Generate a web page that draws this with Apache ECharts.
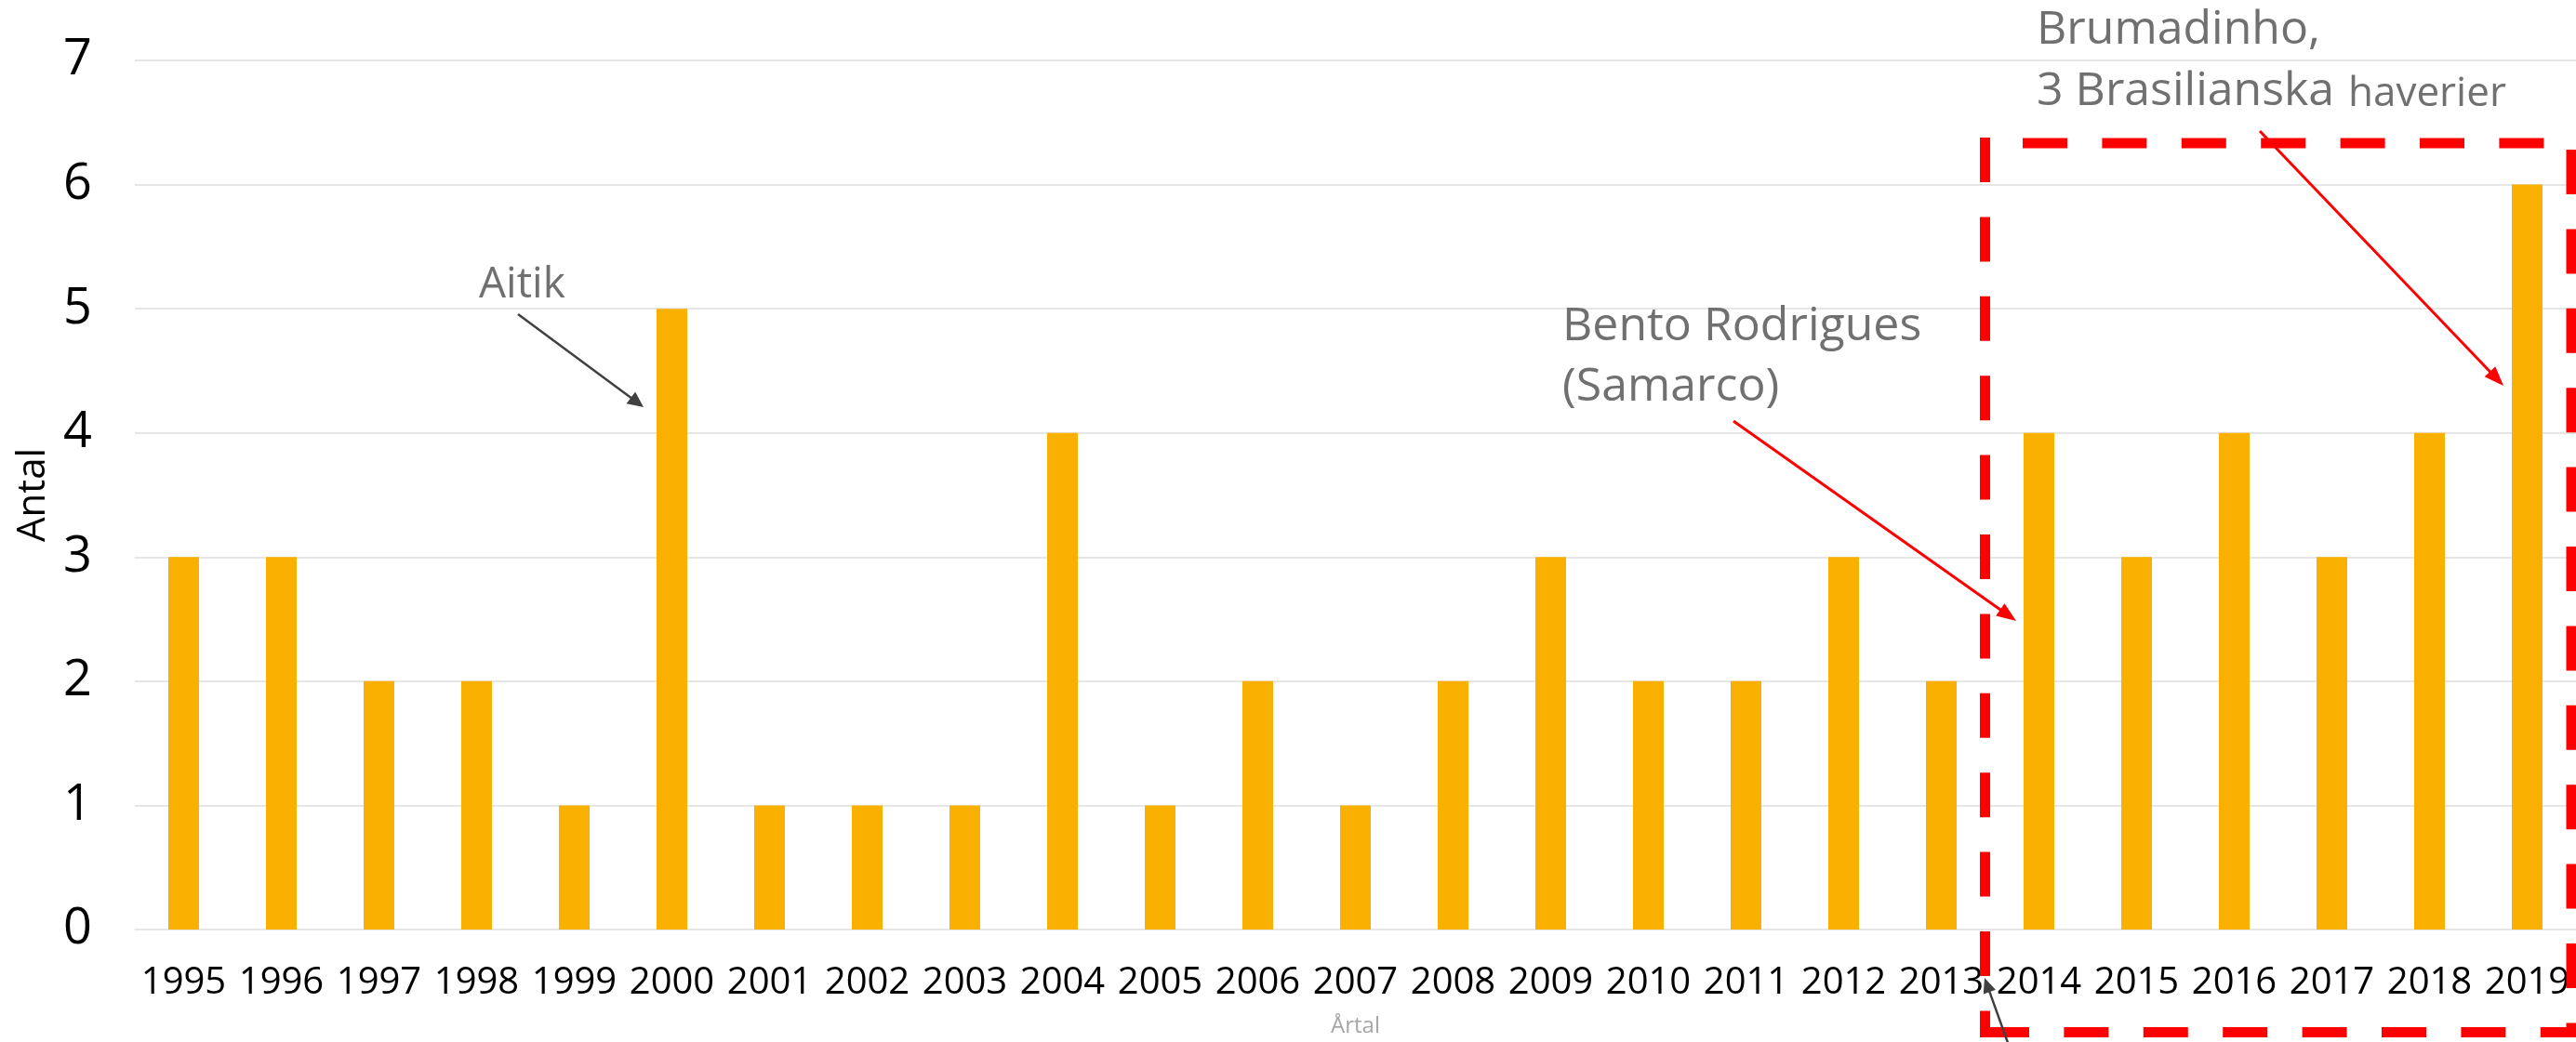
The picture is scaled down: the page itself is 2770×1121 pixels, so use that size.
<!DOCTYPE html>
<html>
<head>
<meta charset="utf-8">
<script src="https://cdn.jsdelivr.net/npm/echarts@6/dist/echarts.min.js"></script>
<style>
html,body{margin:0;padding:0;background:#fff;}
#chart{width:2770px;height:1121px;}
</style>
</head>
<body>
<div id="chart"></div>
<script>
var years = ['1995','1996','1997','1998','1999','2000','2001','2002','2003','2004','2005','2006','2007','2008','2009','2010','2011','2012','2013','2014','2015','2016','2017','2018','2019'];
var counts = [3,3,2,2,1,5,1,1,1,4,1,2,1,2,3,2,2,3,2,4,3,4,3,4,6];
var yMin = 0, yMax = 7, yStep = 1;
var xAxisName = 'Årtal';
var yAxisName = 'Antal';

var FONT = '"Open Sans", "Noto Sans", "Liberation Sans", sans-serif';
var GRAY = '#707070';
var RED = '#ff0000';
var DARK = '#404040';

function arrow(x1, y1, x2, y2, color, width, headLen, headHalf) {
  var dx = x2 - x1, dy = y2 - y1;
  var L = Math.sqrt(dx*dx + dy*dy);
  var ux = dx / L, uy = dy / L;
  var bx = x2 - ux*headLen, by = y2 - uy*headLen;
  var px = -uy, py = ux;
  return [
    {type:'line', shape:{x1:x1, y1:y1, x2:bx + ux*2, y2:by + uy*2}, style:{stroke:color, lineWidth:width}, z:20},
    {type:'polygon', shape:{points:[[x2,y2],[bx + px*headHalf, by + py*headHalf],[bx - px*headHalf, by - py*headHalf]]}, style:{fill:color}, z:20}
  ];
}

function dashed(x1, y1, x2, y2) {
  return {type:'line', shape:{x1:x1, y1:y1, x2:x2, y2:y2}, style:{stroke:RED, lineWidth:11, lineDash:[48, 37.4], lineCap:'butt'}, z:15};
}

function txt(x, y, s, size, color) {
  return {type:'text', x:x, y:y, style:{text:s, fill:color, font:'normal ' + size + 'px ' + FONT, textAlign:'left', textVerticalAlign:'middle', verticalAlign:'middle'}, z:25};
}

var graphics = [];
graphics.push(txt(515, 307, 'Aitik', 46, GRAY));
graphics.push(txt(1680, 352, 'Bento Rodrigues', 50, GRAY));
graphics.push(txt(1680, 417, '(Samarco)', 50, GRAY));
graphics.push(txt(2190, 33, 'Brumadinho,', 50, GRAY));
graphics.push(txt(2190, 99, '3 Brasilianska', 50, GRAY));
graphics.push(txt(2525, 101, 'haverier', 44, GRAY));
graphics = graphics.concat(arrow(557, 338, 692, 438, DARK, 2.5, 17, 8));
graphics = graphics.concat(arrow(1864, 453, 2168, 668, RED, 3, 21, 8));
graphics = graphics.concat(arrow(2430, 141, 2692, 415, RED, 3, 21, 8));
graphics = graphics.concat(arrow(2162, 1130, 2134, 1052, DARK, 2.5, 16, 7));
graphics.push(dashed(2175, 154, 2770, 154));
graphics.push(dashed(2134.5, 148, 2134.5, 1116));
graphics.push(dashed(2134, 1110.5, 2770, 1110.5));
graphics.push(dashed(2765, 161, 2765, 1116));

var chart = echarts.init(document.getElementById('chart'), null, {renderer:'canvas'});
chart.setOption({
  animation:false,
  backgroundColor:'#ffffff',
  grid:{left:145, right:0, top:65, bottom:114, containLabel:false},
  xAxis:{
    type:'category', data:years,
    axisLine:{show:false}, axisTick:{show:false},
    axisLabel:{interval:0, color:'#000', fontSize:40, fontFamily:FONT, margin:38},
    name:xAxisName, nameLocation:'middle', nameGap:92,
    nameTextStyle:{color:'#a6a6a6', fontSize:24, fontFamily:FONT}
  },
  yAxis:{
    type:'value', min:yMin, max:yMax, interval:yStep,
    axisLine:{show:false}, axisTick:{show:false},
    axisLabel:{color:'#000', fontSize:54, fontFamily:FONT, margin:46},
    splitLine:{lineStyle:{color:'#e6e6e6', width:2}},
    name:yAxisName, nameLocation:'middle', nameGap:83, nameRotate:90,
    nameTextStyle:{color:'#000', fontSize:42, fontFamily:FONT}
  },
  series:[{
    type:'bar', data:counts, barWidth:33,
    itemStyle:{color:'#F9B000'}
  }],
  graphic:graphics
});
</script>
</body>
</html>
